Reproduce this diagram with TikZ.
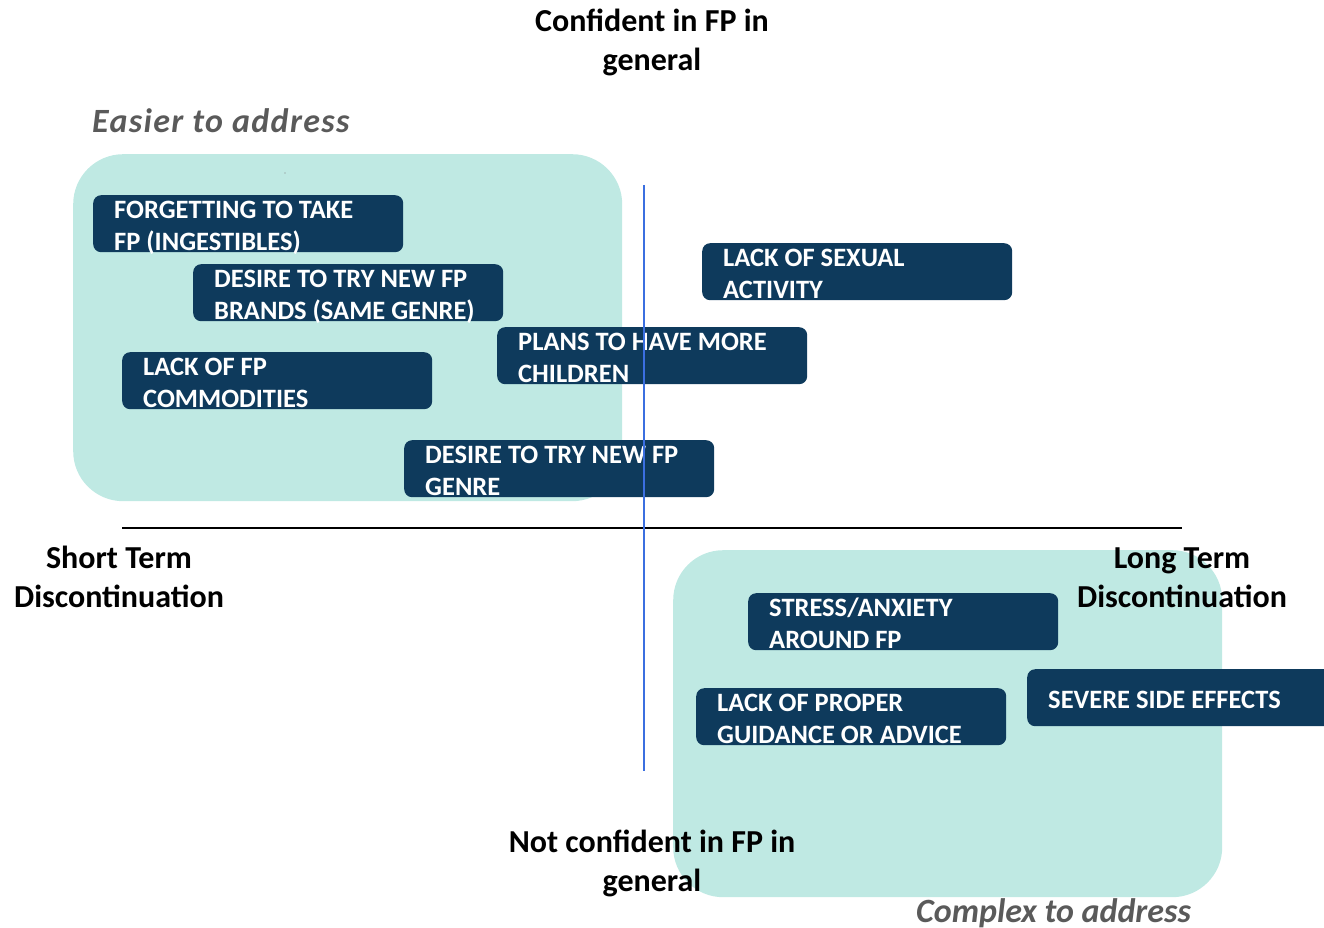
\documentclass[tikz,border=0pt]{standalone}
\usepackage{fontspec}
\setmainfont{Carlito}
\definecolor{zonefill}{HTML}{BFE9E3}
\definecolor{barrierfill}{HTML}{0E3A5C}
\definecolor{axisblue}{HTML}{3B6FE0}
\definecolor{cornergray}{HTML}{5A5A5A}
\tikzset{
  zone/.style={fill=zonefill, rounded corners=50pt, inner sep=0pt, anchor=north west},
  barrier/.style={fill=barrierfill, rounded corners=8pt, inner sep=0pt, anchor=north west,
    minimum width=310pt, minimum height=57pt},
  barriertext/.style={text=white, inner sep=0pt, anchor=base west, align=left,
    font=\fontsize{26.5}{32}\selectfont\bfseries},
  axislabel/.style={inner sep=0pt, anchor=base, align=center,
    font=\fontsize{32}{39}\selectfont\bfseries},
  cornerlabel/.style={inner sep=0pt, anchor=base west, text=cornergray,
    font=\fontsize{34}{40}\selectfont\bfseries\itshape},
}
% a barrier: name, top-left corner, two-line text (anchored on the last line)
\newcommand\barrierbox[3]{%
  \node[barrier] (#1) at (#2) {};
  \node[barriertext] (#1-text) at ([shift={(21pt,-55pt)}]#1.north west) {#3};
}
\begin{document}
\begin{tikzpicture}[x=1pt,y=-1pt]
\useasboundingbox (0,0) rectangle (1324,928);
\clip (0,0) rectangle (1324,928);

% shaded zones
\node[zone, minimum width=549pt, minimum height=347pt] (easyzone) at (73,154) {};
\node[zone, minimum width=549pt, minimum height=347pt] (complexzone) at (673,550) {};
\fill[gray] (285,173) circle (0.7pt);

% horizontal axis
\coordinate (hleft) at (122,528);
\coordinate (hright) at (1182,528);
\draw[line width=1.6pt, black] (hleft) -- (hright);

% barriers
\barrierbox{forget}{93,195}{FORGETTING TO TAKE\\FP (INGESTIBLES)}
\barrierbox{brands}{193,264}{DESIRE TO TRY NEW FP\\BRANDS (SAME GENRE)}
\barrierbox{commod}{122,352}{LACK OF FP\\COMMODITIES}
\barrierbox{children}{497,327}{PLANS TO HAVE MORE\\CHILDREN}
\barrierbox{sexual}{702,243}{LACK OF SEXUAL\\ACTIVITY}
\barrierbox{genre}{404,440}{DESIRE TO TRY NEW FP\\GENRE}
\barrierbox{stress}{748,593}{STRESS/ANXIETY\\AROUND FP}
\barrierbox{guidance}{696,688}{LACK OF PROPER\\GUIDANCE OR ADVICE}
\node[barrier, minimum width=330pt] (side) at (1027,669) {};
\node[barriertext] (side-text) at ([shift={(21pt,-39pt)}]side.north west) {SEVERE SIDE EFFECTS};

% axis labels (anchored on their last line)
\node[axislabel] (conf) at (652,71) {Confident in FP in\\general};
\node[axislabel] (notconf) at (652,891) {Not confident in FP in\\general};
\node[axislabel] (short) at (119,607) {Short Term\\Discontinuation};
\node[axislabel] (long) at (1182,607) {Long Term\\Discontinuation};
\node[cornerlabel, font=\fontsize{34}{40}\selectfont\bfseries\itshape\addfontfeature{LetterSpace=4}] (easier) at (92,133) {Easier to address};
\node[cornerlabel] (complex) at (916,922) {Complex to address};

% vertical axis
\coordinate (vtop) at (644,185);
\coordinate (vbottom) at (644,771);
\draw[line width=1.4pt, axisblue] (vtop) -- (vbottom);
\end{tikzpicture}
\end{document}
